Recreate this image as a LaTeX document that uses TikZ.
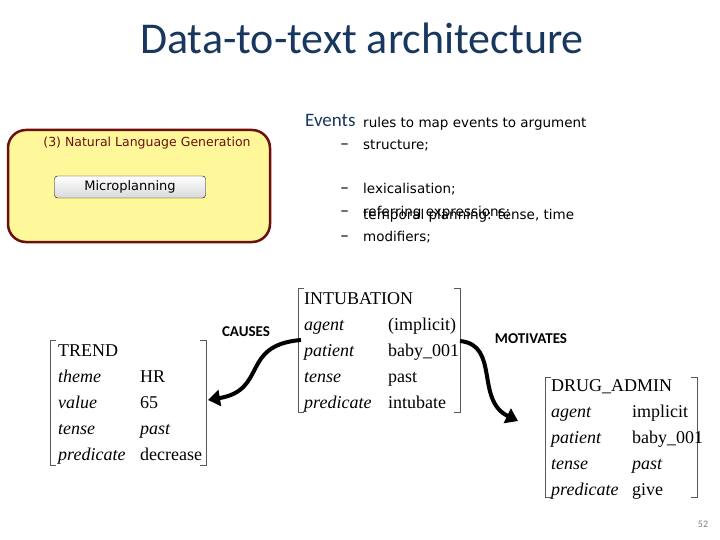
\documentclass[tikz,border=0pt]{standalone}
\usepackage{fontspec}
\setmainfont{Carlito}
\newfontfamily\verd{DejaVu Sans}
\newfontfamily\tms{Liberation Serif}
\usetikzlibrary{arrows.meta}
\definecolor{titleblue}{HTML}{17375E}
\definecolor{boxred}{HTML}{6B0F0F}
\definecolor{boxyellow}{HTML}{FFF89A}
\begin{document}
\begin{tikzpicture}[x=1pt,y=-1pt,
  mt/.style={anchor=base west,inner sep=0,font=\tms\fontsize{18}{20}\selectfont},
  mi/.style={mt,font=\tms\itshape\fontsize{18}{20}\selectfont},
  bul/.style={anchor=base west,inner sep=0,font=\verd\fontsize{13.5}{22}\selectfont,align=left},
  brk/.style={line width=0.8pt,gray!70!black},
  bigarrow/.style={line width=4pt,-{Triangle[length=12pt,width=16pt]}}]
\useasboundingbox (0,0) rectangle (720,540);
\node[titleblue,font=\fontsize{44}{48}\selectfont] (title) at (362,38) {Data-to-text architecture};
% NLG box
\draw[boxred,line width=2.5pt,fill=boxyellow,rounded corners=18pt] (8,130) rectangle (270,242);
\node[boxred,font=\verd\fontsize{12.5}{14}\selectfont] (nlg) at (147,143) {(3) Natural Language Generation};
\node[draw=black,rounded corners=3pt,top color=white,bottom color=gray!30,minimum width=151pt,minimum height=22pt,inner sep=0,font=\verd\fontsize{13}{15}\selectfont] (mp) at (130,187) {Microplanning};
% Events
\node[titleblue,anchor=west,font=\fontsize{19}{21}\selectfont,inner sep=0] (ev) at (305,120) {Events};
\foreach \y/\t in {145/{rules to map events to argument\\structure;},189/{lexicalisation;},211/{referring expressions;},236/{temporal planning: tense, time\\modifiers;}}{
  \node[anchor=base west,inner sep=0,font=\fontsize{18}{18}\selectfont] at (340,\y+5) {--};
  \node[bul] at (363,\y+5) {\t};
}
% TREND
\draw[brk] (56,340)--(50,340)--(50,465)--(56,465);
\draw[brk] (200,340)--(206,340)--(206,465)--(200,465);
\node[mt] (tr) at (58,356) {TREND};
\node[mi] at (58,382) {theme}; \node[mt] at (140,382) {HR};
\node[mi] at (58,408) {value}; \node[mt] at (140,408) {65};
\node[mi] at (58,434) {tense}; \node[mi] at (140,434) {past};
\node[mi] at (58,460) {predicate}; \node[mt] at (140,460) {decrease};
% INTUBATION
\draw[brk] (304,288)--(298,288)--(298,412)--(304,412);
\draw[brk] (454,288)--(460,288)--(460,412)--(454,412);
\node[mt] (in) at (304,304) {INTUBATION};
\node[mi] at (304,330) {agent}; \node[mt] at (388,330) {(implicit)};
\node[mi] at (304,356) {patient}; \node[mt] at (388,356) {baby\_001};
\node[mi] at (304,382) {tense}; \node[mt] at (388,382) {past};
\node[mi] at (304,408) {predicate}; \node[mt] at (388,408) {intubate};
% DRUG_ADMIN
\draw[brk] (551,377)--(545,377)--(545,497)--(551,497);
\draw[brk] (691,377)--(697,377)--(697,497)--(691,497);
\node[mt] (dr) at (551,391) {DRUG\_ADMIN};
\node[mi] at (551,417) {agent}; \node[mt] at (632,417) {implicit};
\node[mi] at (551,443) {patient}; \node[mt] at (632,443) {baby\_001};
\node[mi] at (551,469) {tense}; \node[mi] at (632,469) {past};
\node[mi] at (551,495) {predicate}; \node[mt] at (632,495) {give};
% labels & arrows
\node[font=\bfseries\fontsize{15}{17}\selectfont] (causes) at (246,332) {CAUSES};
\node[font=\bfseries\fontsize{15}{17}\selectfont] (motiv) at (531,339) {MOTIVATES};
\coordinate (a1) at (301,340); \coordinate (a2) at (208,400);
\coordinate (b1) at (460,341); \coordinate (b2) at (518,421);
\draw[bigarrow] (a1) .. controls (240,345) and (268,390) .. (a2);
\draw[bigarrow] (b1) .. controls (500,345) and (475,400) .. (b2);
\node[gray,font=\fontsize{10}{12}\selectfont] (pg) at (703,524) {52};
\end{tikzpicture}
\end{document}
